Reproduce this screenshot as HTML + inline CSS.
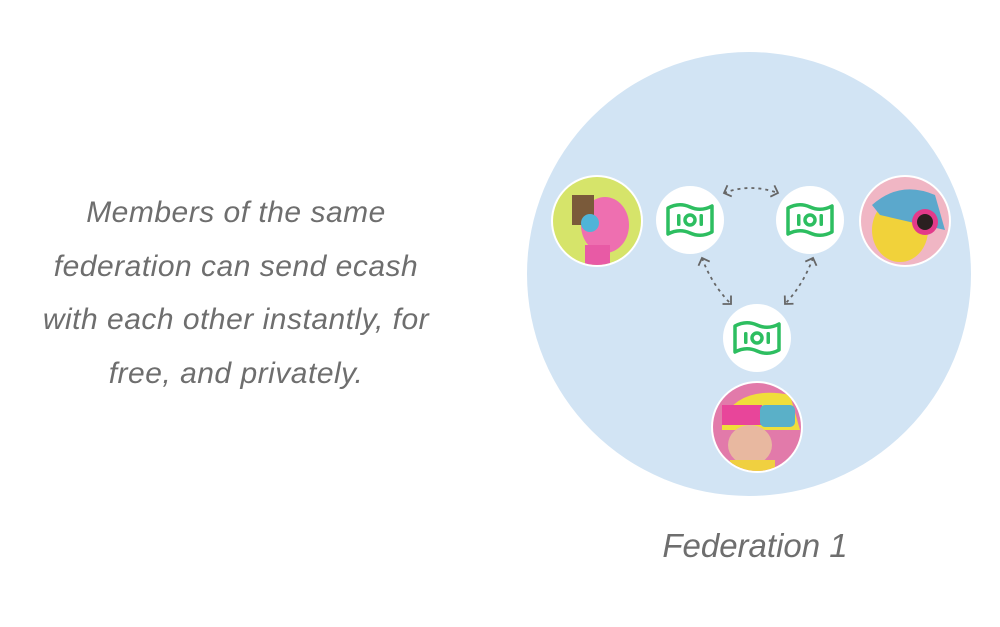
<!DOCTYPE html>
<html><head><style>
html,body{margin:0;padding:0;background:#fff;width:1000px;height:627px;overflow:hidden}
.t{position:absolute;font-family:"Liberation Sans",sans-serif;font-style:italic;color:#6e6e6e;text-align:center;white-space:nowrap}
</style></head><body>
<div class="t" style="left:20px;width:432px;top:186px;font-size:30px;line-height:53.5px;letter-spacing:0.5px">Members of the same<br>federation can send ecash<br>with each other instantly, for<br>free, and privately.</div>
<div class="t" style="left:600px;width:310px;top:526px;font-size:33px;line-height:40px">Federation 1</div>
<svg width="1000" height="627" style="position:absolute;left:0;top:0">
<defs>
<marker id="a" markerWidth="14" markerHeight="14" refX="7" refY="7" orient="auto-start-reverse" markerUnits="userSpaceOnUse">
<path d="M1,1 L7,7 L1,13" fill="none" stroke="#666" stroke-width="1.8"/></marker>
<clipPath id="c1"><circle cx="597" cy="221" r="44"/></clipPath>
<clipPath id="c2"><circle cx="905" cy="221" r="44"/></clipPath>
<clipPath id="c3"><circle cx="757" cy="427" r="44"/></clipPath>
<g id="bill"><path d="M-22,-12 Q-11,-18 0,-13 Q11,-8 22,-14 L22,12 Q11,18 0,13 Q-11,8 -22,14 Z" fill="none" stroke="#2dbe60" stroke-width="3.5" stroke-linejoin="round"/>
<rect x="-13" y="-6" width="3.5" height="12" rx="1.5" fill="#2dbe60"/><circle cx="0" cy="0" r="5" fill="none" stroke="#2dbe60" stroke-width="3.5"/><rect x="9.5" y="-6" width="3.5" height="12" rx="1.5" fill="#2dbe60"/></g>
</defs>
<circle cx="749" cy="274" r="222" fill="#d2e4f4"/>
<circle cx="597" cy="221" r="46" fill="#fff"/>
<g clip-path="url(#c1)"><rect x="550" y="175" width="95" height="95" fill="#d6e46a"/>
<ellipse cx="605" cy="225" rx="24" ry="28" fill="#ee6fb0"/><rect x="585" y="245" width="25" height="30" fill="#e85aa5"/>
<rect x="572" y="195" width="22" height="30" fill="#7a5a3a"/><circle cx="590" cy="223" r="9" fill="#4fb4d8"/></g>
<circle cx="905" cy="221" r="46" fill="#fff"/>
<g clip-path="url(#c2)"><rect x="858" y="175" width="95" height="95" fill="#f0b6c4"/>
<ellipse cx="900" cy="230" rx="28" ry="32" fill="#f1d23a"/><path d="M872 205 Q900 180 935 195 L945 230 L880 215Z" fill="#5ba8cc"/>
<circle cx="925" cy="222" r="13" fill="#e33a8a"/><circle cx="925" cy="222" r="8" fill="#2a2020"/></g>
<circle cx="757" cy="427" r="46" fill="#fff"/>
<g clip-path="url(#c3)"><rect x="710" y="381" width="95" height="95" fill="#e27aaa"/>
<path d="M722 420 Q740 385 790 395 L800 430 L722 430Z" fill="#f0de3a"/><rect x="722" y="405" width="40" height="20" fill="#e8459a"/>
<rect x="760" y="405" width="35" height="22" rx="5" fill="#5ab0c8"/><ellipse cx="750" cy="445" rx="22" ry="20" fill="#e8b8a0"/><rect x="730" y="460" width="45" height="20" fill="#f0d040"/></g>
<circle cx="690" cy="220" r="34" fill="#fff"/><use href="#bill" x="690" y="220"/>
<circle cx="810" cy="220" r="34" fill="#fff"/><use href="#bill" x="810" y="220"/>
<circle cx="757" cy="338" r="34" fill="#fff"/><use href="#bill" x="757" y="338"/>
<g fill="none" stroke="#666" stroke-width="1.8" stroke-dasharray="3,4">
<path d="M724 193 Q750 183 778 193" marker-start="url(#a)" marker-end="url(#a)"/>
<path d="M702 258 Q712 285 731 304" marker-start="url(#a)" marker-end="url(#a)"/>
<path d="M813 258 Q803 285 785 304" marker-start="url(#a)" marker-end="url(#a)"/>
</g>
</svg>
</body></html>
